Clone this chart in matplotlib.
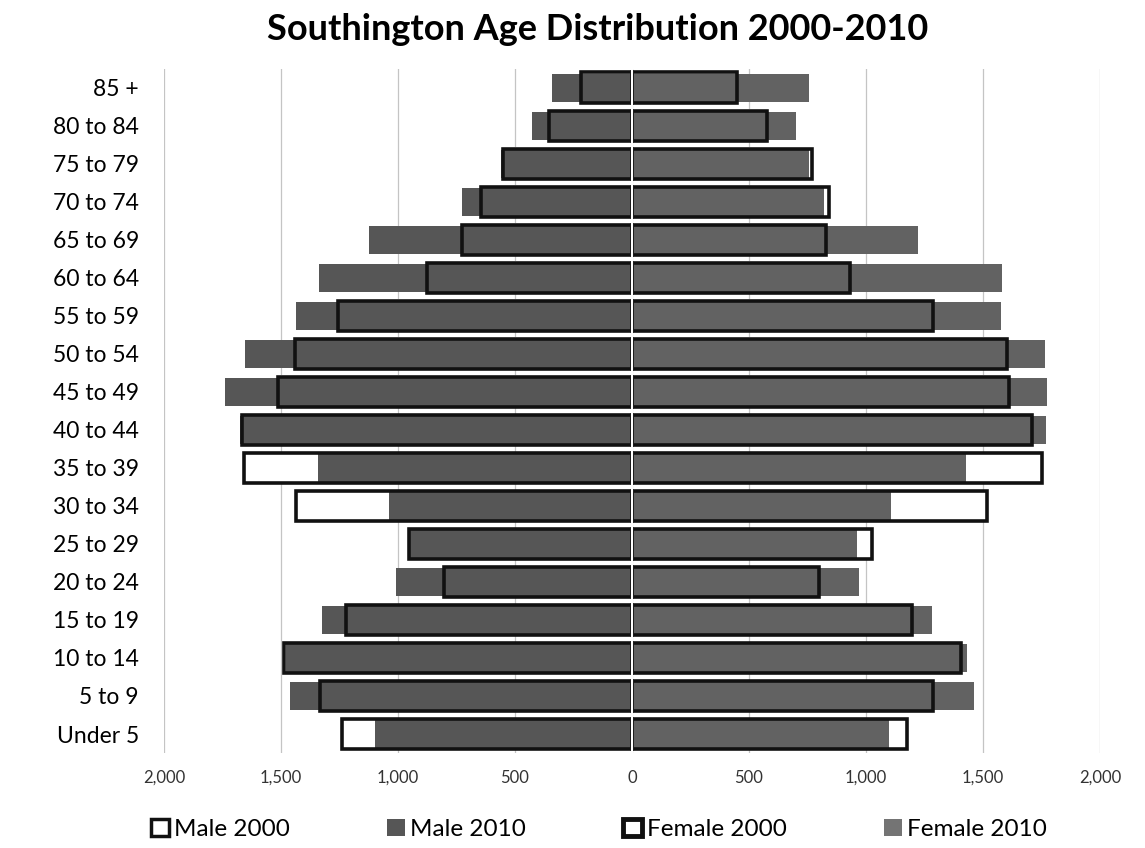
import matplotlib.pyplot as plt
import numpy as np
from matplotlib.patches import Patch
from matplotlib.ticker import FuncFormatter

plt.rcParams['font.family'] = ['Lato', 'DejaVu Sans']

# bottom -> top
age_groups = ["Under 5", "5 to 9", "10 to 14", "15 to 19", "20 to 24", "25 to 29",
              "30 to 34", "35 to 39", "40 to 44", "45 to 49", "50 to 54", "55 to 59",
              "60 to 64", "65 to 69", "70 to 74", "75 to 79", "80 to 84", "85 +"]

male_2000 = [1240, 1335, 1487, 1222, 803, 955, 1436, 1658, 1667, 1513, 1440, 1256,
             876, 726, 645, 550, 355, 218]
male_2010 = [1100, 1460, 1480, 1325, 1009, 950, 1038, 1342, 1675, 1740, 1655, 1436,
             1338, 1124, 726, 560, 427, 342]
female_2000 = [1175, 1286, 1406, 1197, 799, 1026, 1517, 1752, 1709, 1611, 1603, 1286,
               932, 829, 842, 769, 577, 449]
female_2010 = [1098, 1462, 1432, 1282, 970, 962, 1107, 1427, 1769, 1774, 1765, 1577,
               1581, 1222, 820, 755, 701, 756]

title = "Southington Age Distribution 2000-2010"


def main():
    y = np.arange(len(age_groups))
    m00 = -np.array(male_2000)
    m10 = -np.array(male_2010)
    f00 = np.array(female_2000)
    f10 = np.array(female_2010)

    fig = plt.figure(figsize=(11.45, 8.48), dpi=100)
    ax = fig.add_axes([0.1432, 0.112, 0.8175, 0.807])

    gray_m = '#565656'
    gray_f = '#626262'

    # 2000 white base, 2010 gray on top, then 2000 outline over it
    ax.barh(y, m00, height=0.86, color='white', edgecolor='none', zorder=2)
    ax.barh(y, f00, height=0.86, color='white', edgecolor='none', zorder=2)
    ax.barh(y, m10, height=0.74, color=gray_m, edgecolor='none', zorder=3)
    ax.barh(y, f10, height=0.74, color=gray_f, edgecolor='none', zorder=3)
    ax.barh(y, m00, height=0.80, color='none', edgecolor='#111111', linewidth=2.6, zorder=4)
    ax.barh(y, f00, height=0.80, color='none', edgecolor='#111111', linewidth=2.6, zorder=4)

    ax.axvline(0, color='white', linewidth=1.5, zorder=5)

    ax.set_xlim(-2000, 2000)
    ax.set_ylim(-0.5, len(age_groups) - 0.5)
    ax.set_xticks(np.arange(-2000, 2001, 500))
    ax.xaxis.set_major_formatter(FuncFormatter(lambda v, p: f"{abs(int(v)):,}"))
    ax.set_yticks(y)
    ax.set_yticklabels(age_groups)
    ax.tick_params(axis='y', labelsize=16.5, length=0, pad=18)
    ax.tick_params(axis='x', labelsize=12, length=0, pad=12, colors='#333333')
    ax.grid(axis='x', color='#c4c4c4', linewidth=0.9, zorder=0)
    ax.set_axisbelow(True)
    for s in ax.spines.values():
        s.set_visible(False)

    fig.text(0.522, 0.965, title, ha='center', va='center', fontsize=26, fontweight='bold')

    handles = [
        Patch(facecolor='white', edgecolor='#111111', linewidth=2.5, label='Male 2000'),
        Patch(facecolor=gray_m, edgecolor='none', label='Male 2010'),
        Patch(facecolor='white', edgecolor='#111111', linewidth=3.5, label='Female 2000'),
        Patch(facecolor='#747474', edgecolor='none', label='Female 2010'),
    ]
    fig.legend(handles=handles, loc='center', bbox_to_anchor=(0.523, 0.022), ncol=4,
               frameon=False, fontsize=17.5, handlelength=0.75, handleheight=0.75,
               handletextpad=0.2, columnspacing=4.0)

    fig.savefig('out.png', dpi=100)


if __name__ == "__main__":
    main()
